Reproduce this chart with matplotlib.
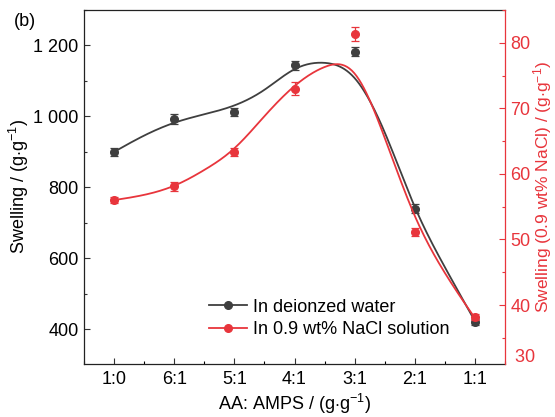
import numpy as np
import matplotlib
matplotlib.use("Agg")
import matplotlib.pyplot as plt
from matplotlib.ticker import MultipleLocator, FuncFormatter

plt.rcParams['font.family'] = ['Liberation Sans', 'DejaVu Sans']
plt.rcParams['mathtext.fontset'] = 'custom'
plt.rcParams['mathtext.rm'] = 'Liberation Sans'
plt.rcParams['mathtext.it'] = 'Liberation Sans:italic'

# ---- data ----
categories = ['1:0', '6:1', '5:1', '4:1', '3:1', '2:1', '1:1']
water = [899, 994, 1012, 1144, 1183, 740, 421]
water_err = [12, 14, 12, 12, 12, 12, 8]
nacl = [56.0, 58.1, 63.4, 73.0, 81.3, 51.1, 38.2]
nacl_err = [0.5, 0.7, 0.6, 1.0, 1.1, 0.6, 0.5]

# fitted curves at half-category steps
fit_pos = [0, 0.5, 1, 1.5, 2, 2.5, 3, 3.5, 4, 4.5, 5, 5.5, 6]
water_fit = [900, 946, 982, 1006, 1031, 1075, 1133, 1151, 1108, 955, 745, 575, 423]
nacl_fit = [56.0, 56.8, 58.2, 60.6, 63.9, 68.8, 73.4, 76.3, 75.3, 65.5, 53.6, 44.9, 38.0]

colors = {'water': '#3f3f3f', 'nacl': '#e8353c'}
FS = 13


def natural_spline(x, y, n=300):
    x = np.asarray(x, float); y = np.asarray(y, float)
    k = len(x); h = np.diff(x)
    A = np.zeros((k, k)); b = np.zeros(k)
    A[0, 0] = A[-1, -1] = 1
    for i in range(1, k - 1):
        A[i, i - 1] = h[i - 1]; A[i, i] = 2 * (h[i - 1] + h[i]); A[i, i + 1] = h[i]
        b[i] = 3 * ((y[i + 1] - y[i]) / h[i] - (y[i] - y[i - 1]) / h[i - 1])
    c = np.linalg.solve(A, b)
    xs = np.linspace(x[0], x[-1], n); ys = np.empty_like(xs)
    for j, xv in enumerate(xs):
        i = min(np.searchsorted(x, xv, side='right') - 1, k - 2)
        dx = xv - x[i]
        bb = (y[i + 1] - y[i]) / h[i] - h[i] * (2 * c[i] + c[i + 1]) / 3
        d = (c[i + 1] - c[i]) / (3 * h[i])
        ys[j] = y[i] + bb * dx + c[i] * dx ** 2 + d * dx ** 3
    return xs, ys


fig = plt.figure(figsize=(5.55, 4.17), dpi=100)
ax = fig.add_axes([84 / 555, 1 - 364 / 417, (505 - 84) / 555, (364 - 10) / 417])
ax2 = ax.twinx()

x = np.arange(len(categories))

xs, ys = natural_spline(fit_pos, water_fit)
ax.plot(xs, ys, color=colors['water'], lw=1.3, zorder=3)
ax.errorbar(x, water, yerr=water_err, fmt='o', color=colors['water'], ms=5.5,
            elinewidth=0.9, capsize=3, capthick=0.9, zorder=4)

xs2, ys2 = natural_spline(fit_pos, nacl_fit)
ax2.plot(xs2, ys2, color=colors['nacl'], lw=1.3, zorder=3)
ax2.errorbar(x, nacl, yerr=nacl_err, fmt='o', color=colors['nacl'], ms=5.5,
             elinewidth=0.9, capsize=3, capthick=0.9, zorder=4)

ax.set_xlim(-0.5, 6.5)
ax.set_xticks(x)
ax.set_xticklabels(categories)
ax.xaxis.set_minor_locator(MultipleLocator(0.5))

ax.set_ylim(302, 1300)
ax.set_yticks([400, 600, 800, 1000, 1200])
ax.yaxis.set_major_formatter(FuncFormatter(
    lambda v, p: f"{int(v):,}".replace(',', ' ')))
ax.yaxis.set_minor_locator(MultipleLocator(100))

ax2.set_ylim(31.0, 85)
ax2.set_yticks([40, 50, 60, 70, 80])
ax2.yaxis.set_minor_locator(MultipleLocator(5))

for a in (ax, ax2):
    a.tick_params(which='both', direction='in', labelsize=FS)
    a.tick_params(which='major', length=4, width=0.8)
    a.tick_params(which='minor', length=2.5, width=0.8)
ax.tick_params(axis='x', which='both', top=False, pad=5)
ax.tick_params(axis='y', which='both', right=False, colors='#333333', labelcolor='black', pad=4)
ax2.tick_params(axis='y', which='both', colors=colors['nacl'], labelcolor=colors['nacl'], pad=4)
ax.tick_params(axis='x', colors='#333333', labelcolor='black')

ax2.spines['right'].set_color(colors['nacl'])
ax2.spines['left'].set_visible(False)
ax2.spines['top'].set_visible(False)
ax2.spines['bottom'].set_visible(False)
for s in ('left', 'bottom', 'top'):
    ax.spines[s].set_color('#222222')
    ax.spines[s].set_linewidth(0.9)
ax2.spines['right'].set_linewidth(0.9)
ax.spines['right'].set_visible(False)

# "30" label sits at the bottom of the right axis
ax2.text(1.0, 0.017, '  30', transform=ax2.transAxes, color=colors['nacl'],
         fontsize=FS, ha='left', va='center')

ax.set_xlabel(r'AA: AMPS / (g$\cdot$g$^{-1}$)', fontsize=FS, labelpad=3)
ax.set_ylabel(r'Swelling / (g$\cdot$g$^{-1}$)', fontsize=FS)
ax.yaxis.set_label_coords(-0.126, 0.5)
ax2.set_ylabel(r'Swelling (0.9 wt% NaCl) / (g$\cdot$g$^{-1}$)', fontsize=12.5,
               color=colors['nacl'])
ax2.yaxis.set_label_coords(1.063, 0.5)

fig.text(14 / 555, 1 - 21 / 417, '(b)', fontsize=FS, va='center', ha='left')

h1, = ax.plot([], [], '-o', color=colors['water'], ms=5.5, lw=1.3)
h2, = ax.plot([], [], '-o', color=colors['nacl'], ms=5.5, lw=1.3)
leg = ax.legend([h1, h2], ['In deionzed water', 'In 0.9 wt% NaCl solution'],
                loc='lower left', bbox_to_anchor=(209 / 555, 1 - 338 / 417),
                bbox_transform=fig.transFigure, frameon=False, fontsize=FS,
                handlelength=2.1, handletextpad=0.35, labelspacing=0.3,
                borderaxespad=0, borderpad=0)

fig.savefig('out.png', dpi=100)
